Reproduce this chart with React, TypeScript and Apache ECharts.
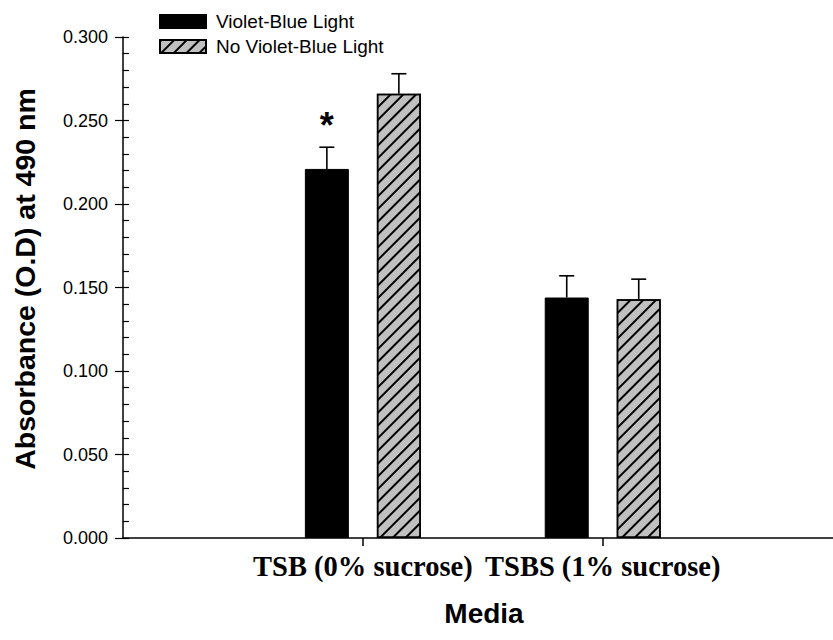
import React, { useEffect, useRef } from "react";
import * as echarts from "echarts";

const categories = ["TSB (0% sucrose)", "TSBS (1% sucrose)"];
const seriesNames = ["Violet-Blue Light", "No Violet-Blue Light"];
const violet = [0.221, 0.144];
const violetErr = [0.013, 0.013];
const noViolet = [0.266, 0.143];
const noVioletErr = [0.012, 0.012];
const significance = ["*", ""];
const yTicks = [0, 0.05, 0.1, 0.15, 0.2, 0.25, 0.3];

const BAR_W = 44;
const BAR_GAP = 28;
const OFFSET = (BAR_W + BAR_GAP) / 2;

export default function App() {
  const ref = useRef<HTMLDivElement>(null);
  useEffect(() => {
    if (!ref.current) return;
    const chart = echarts.init(ref.current, null, { renderer: "svg" });
    const positions = categories.map((_, i) => i + 1);
    const errRender = (offset: number, marks: string[] | null) => (params: any, api: any) => {
      const x = api.value(0);
      const v = api.value(1);
      const e = api.value(2);
      const base = api.coord([x, v]);
      const top = api.coord([x, v + e]);
      const cx = base[0] + offset;
      const children: any[] = [
        { type: "line", shape: { x1: cx, y1: base[1], x2: cx, y2: top[1] }, style: { stroke: "#000", lineWidth: 1.6 } },
        { type: "line", shape: { x1: cx - 7.5, y1: top[1], x2: cx + 7.5, y2: top[1] }, style: { stroke: "#000", lineWidth: 1.6 } },
      ];
      const mark = marks ? marks[params.dataIndex] : "";
      if (mark) {
        children.push({
          type: "text",
          x: cx,
          y: top[1] - 22,
          style: {
            text: mark,
            fill: "#000",
            font: "bold 36px 'Liberation Sans', Arial, sans-serif",
            align: "center",
            verticalAlign: "middle",
          },
        });
      }
      return { type: "group", children };
    };
    chart.setOption({
      animation: false,
      backgroundColor: "#fff",
      grid: { left: 123, right: 0, top: 37, bottom: 102, containLabel: false },
      legend: {
        orient: "vertical",
        left: 154,
        top: 7,
        itemWidth: 46,
        itemHeight: 13,
        itemGap: 6,
        icon: "rect",
        data: seriesNames,
        textStyle: { fontSize: 19, color: "#000", fontFamily: "'Liberation Sans', Arial, sans-serif", padding: [0, 0, 0, 5] },
      },
      xAxis: {
        type: "value",
        min: 0,
        max: 2.96,
        interval: 1,
        splitLine: { show: false },
        axisLine: { show: true, lineStyle: { color: "#000", width: 1.5 } },
        axisTick: { show: true, length: 8, customValues: positions, lineStyle: { color: "#000", width: 1.5 } },
        axisLabel: {
          customValues: positions,
          formatter: (v: number) => categories[Math.round(v) - 1] || "",
          fontFamily: "'Liberation Serif', 'Times New Roman', serif",
          fontWeight: "bold",
          fontSize: 28.5,
          color: "#000",
          margin: 14,
        },
      },
      yAxis: [
        {
          type: "value",
          min: 0,
          max: 0.3,
          interval: 0.05,
          splitLine: { show: false },
          axisLine: { show: true, lineStyle: { color: "#000", width: 1.5 } },
          axisTick: { show: true, length: 8, lineStyle: { color: "#000", width: 1.2 } },
          axisLabel: {
            formatter: (v: number) => (yTicks.some((t) => Math.abs(t - v) < 1e-9) ? v.toFixed(3) : ""),
            fontFamily: "'Liberation Sans', Arial, sans-serif",
            fontSize: 18,
            color: "#000",
            margin: 15,
          },
        },
        {
          type: "value",
          min: 0,
          max: 0.3,
          interval: 0.01,
          position: "left",
          offset: 0,
          splitLine: { show: false },
          axisLine: { show: false },
          axisTick: { show: true, inside: true, length: 6, lineStyle: { color: "#000", width: 1.2 } },
          axisLabel: { show: false },
        },
      ],
      graphic: [
        {
          type: "text",
          x: 25,
          y: 279,
          rotation: Math.PI / 2,
          style: {
            text: "Absorbance (O.D) at 490 nm",
            fill: "#000",
            font: "bold 28.5px 'Liberation Sans', Arial, sans-serif",
            align: "center",
            verticalAlign: "middle",
          },
        },
        {
          type: "text",
          x: 484,
          y: 613,
          style: {
            text: "Media",
            fill: "#000",
            font: "bold 28px 'Liberation Sans', Arial, sans-serif",
            align: "center",
            verticalAlign: "middle",
          },
        },
      ],
      series: [
        {
          name: seriesNames[0],
          type: "bar",
          barWidth: BAR_W,
          barGap: (BAR_GAP / BAR_W) * 100 + "%",
          data: positions.map((p, i) => [p, violet[i]]),
          itemStyle: { color: "#000", borderColor: "#000", borderWidth: 1 },
        },
        {
          name: seriesNames[1],
          type: "bar",
          barWidth: BAR_W,
          barGap: (BAR_GAP / BAR_W) * 100 + "%",
          data: positions.map((p, i) => [p, noViolet[i]]),
          itemStyle: {
            color: "#c0c0c0",
            borderColor: "#000",
            borderWidth: 1.5,
            decal: {
              symbol: "rect",
              symbolSize: 1,
              color: "#000",
              dashArrayX: [1, 0],
              dashArrayY: [1.5, 6.5],
              rotation: -Math.PI / 4,
            },
          },
        },
        {
          type: "custom",
          z: 5,
          renderItem: errRender(-OFFSET, significance),
          data: positions.map((p, i) => [p, violet[i], violetErr[i]]),
          encode: { x: 0, y: 1 },
        },
        {
          type: "custom",
          z: 5,
          renderItem: errRender(OFFSET, null),
          data: positions.map((p, i) => [p, noViolet[i], noVioletErr[i]]),
          encode: { x: 0, y: 1 },
        },
      ],
    });
    return () => chart.dispose();
  }, []);
  return <div ref={ref} style={{ position: "fixed", left: 0, top: 0, width: 833, height: 640, background: "#fff" }} />;
}
